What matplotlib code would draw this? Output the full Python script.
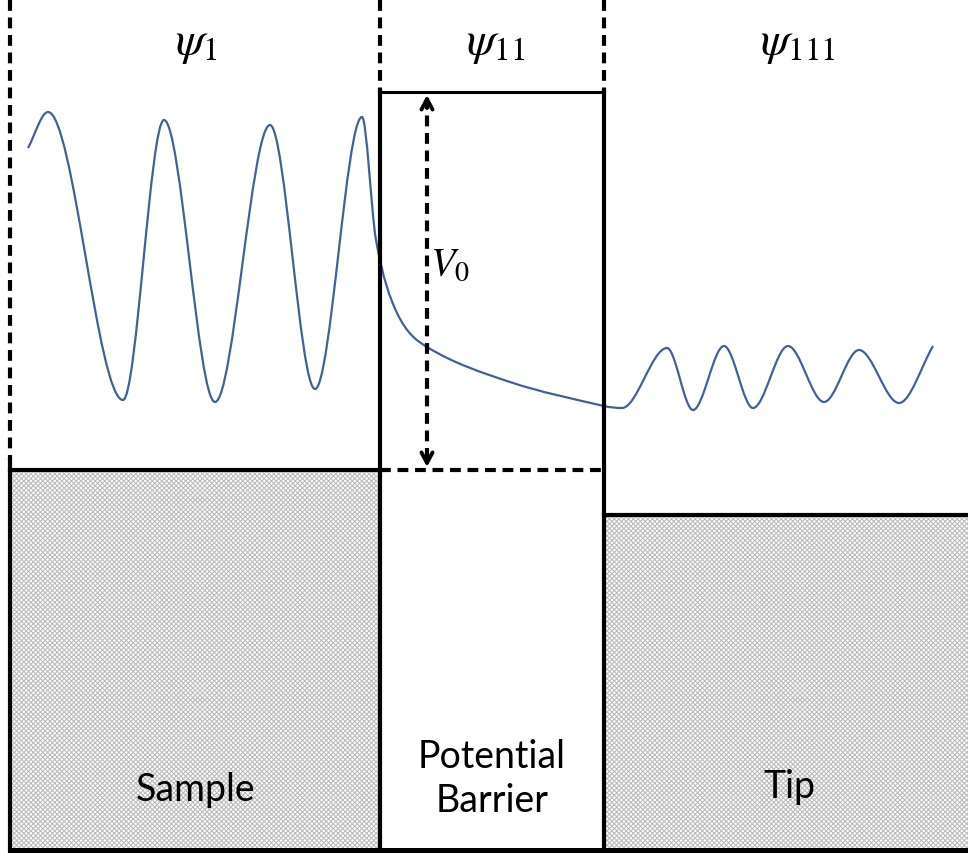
import numpy as np
import matplotlib
matplotlib.use('Agg')
import matplotlib.pyplot as plt
from matplotlib.path import Path
from matplotlib.patches import PathPatch, Rectangle

plt.rcParams['mathtext.fontset'] = 'stix'
plt.rcParams['hatch.linewidth'] = 0.8

# === Diagram data (pixel coordinates, y grows downward) ===
# region edges
x_left = 10
x_barrier_l = 380
x_barrier_r = 604
x_right = 968
y_top_barrier = 92
y_sample = 470
y_tip = 515
y_bottom = 850

# wave function: sample oscillation, decay in barrier, weaker oscillation in tip
wave_x = [28, 48, 123, 164, 215, 270, 315, 362, 376, 397, 427, 510, 604, 622,
          667, 693, 724, 753, 788, 824, 859, 899, 933]
wave_y = [148, 112, 400, 120, 402, 125, 389, 117, 240, 313, 347, 382, 406, 408,
          348, 410, 346, 408, 346, 402, 350, 403, 346]

region_labels = ['Sample', 'Potential\nBarrier', 'Tip']
psi_labels = [r'$\psi_{1}$', r'$\psi_{11}$', r'$\psi_{111}$']
barrier_label = r'$V_0$'


def wave_path(xs, ys):
    # smooth curve through the read points, flat at the peaks and troughs
    n = len(xs)
    slopes = []
    for i in range(n):
        if i == 0:
            s = (ys[1] - ys[0]) / (xs[1] - xs[0])
        elif i == n - 1:
            s = (ys[-1] - ys[-2]) / (xs[-1] - xs[-2])
        elif (ys[i] - ys[i - 1]) * (ys[i + 1] - ys[i]) <= 0:
            s = 0.0
        else:
            s = (ys[i + 1] - ys[i - 1]) / (xs[i + 1] - xs[i - 1])
        slopes.append(s)
    verts = [(xs[0], ys[0])]
    codes = [Path.MOVETO]
    for i in range(n - 1):
        dx = xs[i + 1] - xs[i]
        verts += [(xs[i] + dx / 3, ys[i] + slopes[i] * dx / 3),
                  (xs[i + 1] - dx / 3, ys[i + 1] - slopes[i + 1] * dx / 3),
                  (xs[i + 1], ys[i + 1])]
        codes += [Path.CURVE4] * 3
    return Path(verts, codes)


fig = plt.figure(figsize=(9.68, 8.55), dpi=100)
ax = fig.add_axes([0, 0, 1, 1])
ax.set_xlim(0, 968)
ax.set_ylim(855, 0)
ax.axis('off')

hatch_grey = '#bdbdbd'
# hatched electrodes
ax.add_patch(Rectangle((x_left, y_sample), x_barrier_l - x_left, y_bottom - y_sample,
                       facecolor='white', edgecolor=hatch_grey, hatch='xxxxxxx', linewidth=0))
ax.add_patch(Rectangle((x_barrier_r, y_tip), x_right - x_barrier_r, y_bottom - y_tip,
                       facecolor='white', edgecolor=hatch_grey, hatch='xxxxxxx', linewidth=0))

solid = dict(color='black', linewidth=3.0, solid_capstyle='projecting')
dashed = dict(color='black', linewidth=3.0, dashes=(2.6, 1.6))

# dashed region separators above the structure
ax.plot([x_left, x_left], [0, y_sample - 10], **dashed)
ax.plot([x_barrier_l, x_barrier_l], [0, y_top_barrier], **dashed)
ax.plot([x_barrier_r, x_barrier_r], [0, y_top_barrier], **dashed)

# potential profile
ax.plot([x_left, x_left], [y_sample - 10, y_bottom], **solid)
ax.plot([x_left, x_barrier_l], [y_sample, y_sample], **solid)
ax.plot([x_barrier_l, x_barrier_l], [y_top_barrier, y_bottom], **solid)
ax.plot([x_barrier_l, x_barrier_r], [y_top_barrier, y_top_barrier], color='black', linewidth=2.2)
ax.plot([x_barrier_r, x_barrier_r], [y_top_barrier, y_bottom], **solid)
ax.plot([x_barrier_r, x_right], [y_tip, y_tip], **solid)
ax.plot([x_left, x_right], [y_bottom, y_bottom], color='black', linewidth=3.6)
ax.plot([x_barrier_l, x_barrier_r], [y_sample, y_sample], **dashed)

# barrier height arrow
x_arrow = 427
ax.plot([x_arrow, x_arrow], [y_top_barrier + 6, y_sample - 6], **dashed)
for tip_y, tail_y in [(y_top_barrier + 3, y_top_barrier + 16), (y_sample - 3, y_sample - 16)]:
    ax.annotate('', xy=(x_arrow, tip_y), xytext=(x_arrow, tail_y),
                arrowprops=dict(arrowstyle='->,head_length=0.75,head_width=0.4',
                                color='black', linewidth=2.8, shrinkA=0, shrinkB=0))
ax.text(450, 265, barrier_label, fontsize=29, ha='center', va='center')

# wave function
ax.add_patch(PathPatch(wave_path(wave_x, wave_y), facecolor='none',
                       edgecolor='#41619a', linewidth=1.6))

# labels
psi_x = [196, 496, 798]
for x, lab in zip(psi_x, psi_labels):
    ax.text(x, 44, lab, fontsize=34, ha='center', va='center')

label_pos = [(196, 790), (492, 779), (790, 787)]
for (x, y), lab in zip(label_pos, region_labels):
    ax.text(x, y, lab, fontsize=27, family='Lato', ha='center', va='center',
            linespacing=1.25)

fig.savefig('out.png', dpi=100, facecolor='white')
